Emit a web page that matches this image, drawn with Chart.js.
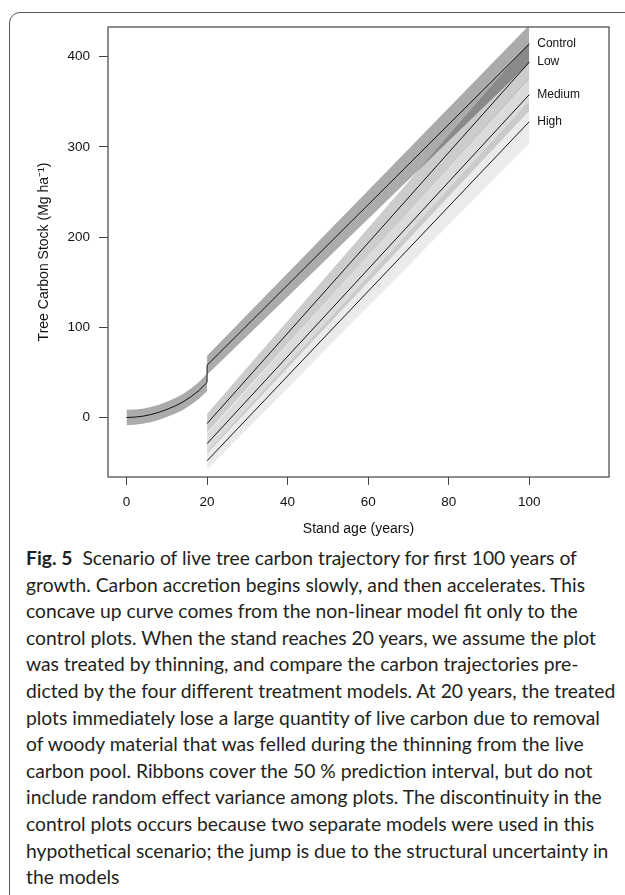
<!DOCTYPE html>
<html>
<head>
<meta charset="utf-8">
<script src="https://cdn.jsdelivr.net/npm/chart.js@4.4.0/dist/chart.umd.min.js"></script>
<style>
  html, body { margin: 0; padding: 0; background: #fff; }
  body { width: 625px; height: 895px; position: relative; overflow: hidden; }
  #frame {
    position: absolute; left: 9px; top: 12px; width: 650px; height: 920px;
    border: 1.3px solid #555; border-top-left-radius: 11px; box-sizing: border-box;
  }
  #chart { position: absolute; left: 0; top: 0; }
  #caption {
    position: absolute; left: 26px; top: 545px;
    font-family: Lato, 'Open Sans', sans-serif; font-size: 19.3px; line-height: 26.6px;
    color: #231f20; white-space: nowrap;
  }
  #caption b { font-weight: 700; margin-right: 10px; }
</style>
</head>
<body>
<div id="frame"></div>
<canvas id="chart" width="625" height="545"></canvas>
<div id="caption">
  <div><b>Fig. 5</b>Scenario of live tree carbon trajectory for first 100 years of</div>
  <div>growth. Carbon accretion begins slowly, and then accelerates. This</div>
  <div>concave up curve comes from the non-linear model fit only to the</div>
  <div>control plots. When the stand reaches 20 years, we assume the plot</div>
  <div>was treated by thinning, and compare the carbon trajectories pre-</div>
  <div>dicted by the four different treatment models. At 20 years, the treated</div>
  <div>plots immediately lose a large quantity of live carbon due to removal</div>
  <div>of woody material that was felled during the thinning from the live</div>
  <div>carbon pool. Ribbons cover the 50 % prediction interval, but do not</div>
  <div>include random effect variance among plots. The discontinuity in the</div>
  <div>control plots occurs because two separate models were used in this</div>
  <div>hypothetical scenario; the jump is due to the structural uncertainty in</div>
  <div>the models</div>
</div>
<script>
// values
const controlYears = [0, 2, 4, 6, 8, 10, 12, 14, 16, 18, 20, 20, 100];
const controlMid   = [0, 0.4, 1.4, 3.2, 5.7, 8.9, 12.6, 17.2, 23, 30, 38.9, 58, 414];
const controlLower = [-8.5, -8, -7, -5.3, -2.8, 0.4, 4, 8.4, 14, 20.7, 29, 47.5, 393];
const controlUpper = [8.5, 8.8, 9.8, 11.7, 14.2, 17.4, 21.2, 26, 32, 39.3, 48.8, 68.5, 435];

const treatYears   = [20, 100];
const lowMid       = [-6.7, 394];
const lowLower     = [-17, 376];
const lowUpper     = [4, 416];
const mediumMid    = [-29, 358];
const mediumLower  = [-40, 340];
const mediumUpper  = [-18, 377];
const highMid      = [-48, 328];
const highLower    = [-58, 304];
const highUpper    = [-38, 351];

const seriesNames = ['Control', 'Low', 'Medium', 'High'];
const xTicks = [0, 20, 40, 60, 80, 100];
const yTicks = [0, 100, 200, 300, 400];

const pts = (xs, ys) => xs.map((x, i) => ({ x: x, y: ys[i] }));

// ribbon = upper edge + lower edge filled back to it
function ribbon(xs, upper, lower, color) {
  return [
    { data: pts(xs, upper), borderWidth: 0, borderColor: 'transparent', pointRadius: 0, fill: false },
    { data: pts(xs, lower), borderWidth: 0, borderColor: 'transparent', pointRadius: 0, fill: '-1', backgroundColor: color },
  ];
}
function line(xs, ys) {
  return { data: pts(xs, ys), borderColor: '#1a1a1a', borderWidth: 1, pointRadius: 0, fill: false };
}

const lines = [
  line(controlYears, controlMid),
  line(treatYears, lowMid),
  line(treatYears, mediumMid),
  line(treatYears, highMid),
];

const frameBox = {
  id: 'frameBox',
  afterDraw(chart) {
    const { ctx, chartArea: a } = chart;
    ctx.save();
    ctx.strokeStyle = '#444';
    ctx.lineWidth = 1.2;
    ctx.strokeRect(a.left, a.top, a.right - a.left, a.bottom - a.top);
    ctx.restore();
  }
};

const endLabels = {
  id: 'endLabels',
  afterDatasetsDraw(chart) {
    const { ctx, scales: { x, y } } = chart;
    ctx.save();
    ctx.font = '12px "Liberation Sans", Arial, sans-serif';
    ctx.fillStyle = '#111';
    ctx.textBaseline = 'middle';
    lines.forEach((ds, i) => {
      const last = ds.data[ds.data.length - 1];
      ctx.fillText(seriesNames[i], x.getPixelForValue(last.x) + 8, y.getPixelForValue(last.y));
    });
    ctx.restore();
  }
};

const tickFont = { family: '"Liberation Sans", Arial, sans-serif', size: 13.5 };
const titleFont = { family: '"Liberation Sans", Arial, sans-serif', size: 14 };

new Chart(document.getElementById('chart'), {
  type: 'line',
  data: {
    datasets: [
      ...ribbon(controlYears, controlUpper, controlLower, 'rgba(0,0,0,0.33)'),
      ...ribbon(treatYears, lowUpper, lowLower, 'rgba(0,0,0,0.2)'),
      ...ribbon(treatYears, mediumUpper, mediumLower, 'rgba(0,0,0,0.14)'),
      ...ribbon(treatYears, highUpper, highLower, 'rgba(0,0,0,0.08)'),
      ...lines,
    ]
  },
  options: {
    responsive: false,
    animation: false,
    devicePixelRatio: 1,
    layout: { padding: { left: 0, top: 27, right: 16, bottom: 0 } },
    plugins: { legend: { display: false }, tooltip: { enabled: false } },
    elements: { line: { tension: 0 } },
    scales: {
      x: {
        type: 'linear',
        min: -4.6,
        max: 119.8,
        border: { display: false },
        grid: { drawOnChartArea: false, drawTicks: true, tickLength: 8, color: '#444' },
        ticks: { font: tickFont, color: '#111', padding: 9 },
        afterBuildTicks: (scale) => { scale.ticks = xTicks.map(v => ({ value: v })); },
        afterFit: (scale) => { scale.height = 68; },
        title: { display: true, text: 'Stand age (years)', font: titleFont, color: '#111', padding: { top: 0, bottom: 7.6 } },
      },
      y: {
        type: 'linear',
        min: -66,
        max: 433,
        border: { display: false },
        grid: { drawOnChartArea: false, drawTicks: true, tickLength: 9, color: '#444' },
        ticks: { font: tickFont, color: '#111', padding: 9 },
        afterBuildTicks: (scale) => { scale.ticks = yTicks.map(v => ({ value: v })); },
        afterFit: (scale) => { scale.width = 108; },
        title: { display: true, text: 'Tree Carbon Stock (Mg ha⁻¹)', font: titleFont, color: '#111', padding: { top: 35.6, bottom: 0 } },
      }
    }
  },
  plugins: [frameBox, endLabels]
});
</script>
</body>
</html>
